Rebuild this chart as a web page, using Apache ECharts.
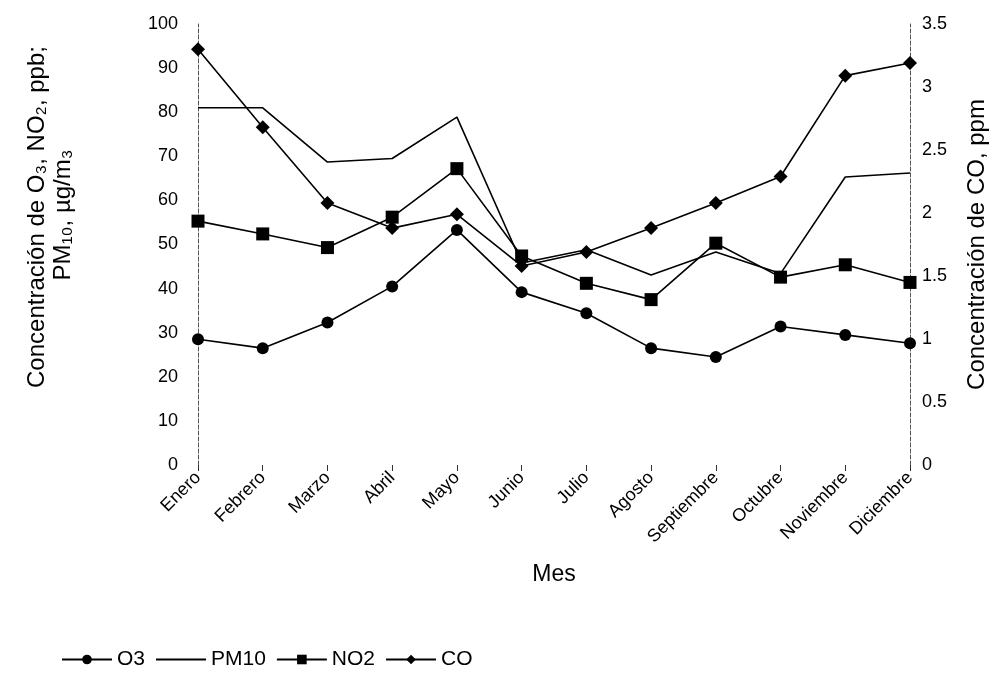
<!DOCTYPE html>
<html>
<head>
<meta charset="utf-8">
<script src="https://cdn.jsdelivr.net/npm/echarts@6/dist/echarts.min.js"></script>
<style>
  html, body { margin: 0; padding: 0; background: #fff; }
  #chart { width: 990px; height: 692px; }
</style>
</head>
<body>
<div id="chart"></div>
<script>
const months = ['Enero', 'Febrero', 'Marzo', 'Abril', 'Mayo', 'Junio', 'Julio', 'Agosto', 'Septiembre', 'Octubre', 'Noviembre', 'Diciembre']
const o3 = [28.5, 26.5, 32.3, 40.5, 53.3, 39.2, 34.4, 26.5, 24.5, 31.4, 29.5, 27.6]
const pm10 = [81, 81, 68.7, 69.5, 78.9, 45.8, 48.8, 43.1, 48.3, 43.4, 65.3, 66.2]
const no2 = [55.3, 52.4, 49.3, 56.2, 67.2, 47.4, 41.2, 37.5, 50.3, 42.6, 45.4, 41.4]
const co = [3.3, 2.68, 2.08, 1.88, 1.99, 1.58, 1.69, 1.88, 2.08, 2.29, 3.09, 3.19]

const font = 'Liberation Sans, Arial, sans-serif'
const chart = echarts.init(document.getElementById('chart'))

const lineBase = {
  type: 'line',
  symbolSize: 12,
  lineStyle: { color: '#000', width: 1.6 },
  itemStyle: { color: '#000' },
  emphasis: { disabled: true },
  animation: false
}

chart.setOption({
  backgroundColor: '#fff',
  textStyle: { fontFamily: font, color: '#000' },
  grid: { left: 198, right: 80, top: 24, bottom: 227, outerBoundsMode: 'none' },
  graphic: [
    // left axis title, two lines
    {
      type: 'text', x: 37, y: 217, rotation: Math.PI / 2,
      style: { text: 'Concentración de O₃, NO₂, ppb;', font: '24px ' + font, fill: '#000', align: 'center', verticalAlign: 'middle' }
    },
    {
      type: 'text', x: 63, y: 215, rotation: Math.PI / 2,
      style: { text: 'PM₁₀, µg/m₃', font: '24px ' + font, fill: '#000', align: 'center', verticalAlign: 'middle' }
    }
  ],
  legend: {
    left: 56,
    top: 644,
    itemWidth: 50,
    itemHeight: 12,
    itemGap: 10,
    textStyle: { fontFamily: font, fontSize: 21, color: '#000' },
    data: ['O3', { name: 'PM10', itemStyle: { opacity: 0 } }, 'NO2', 'CO']
  },
  xAxis: {
    type: 'category',
    data: months,
    boundaryGap: false,
    name: 'Mes',
    nameLocation: 'middle',
    nameGap: 98,
    nameTextStyle: { fontFamily: font, fontSize: 23, color: '#000' },
    axisLine: { show: false },
    axisTick: { show: true, length: 6, lineStyle: { color: '#333', width: 1 } },
    axisLabel: { rotate: 45, margin: 10, fontFamily: font, fontSize: 18, color: '#000' },
    splitLine: { show: false }
  },
  yAxis: [
    {
      type: 'value',
      min: 0,
      max: 100,
      interval: 10,
      axisLine: { show: true, lineStyle: { color: '#555', width: 1, type: 'dashed' } },
      axisTick: { show: false },
      axisLabel: { fontFamily: font, fontSize: 18, color: '#000', margin: 20 },
      splitLine: { show: false }
    },
    {
      type: 'value',
      min: 0,
      max: 3.5,
      interval: 0.5,
      name: 'Concentración de CO, ppm',
      nameLocation: 'middle',
      nameRotate: 90,
      nameGap: 55,
      nameTextStyle: { fontFamily: font, fontSize: 24, color: '#000' },
      axisLine: { show: true, lineStyle: { color: '#555', width: 1, type: 'dashed' } },
      axisTick: { show: false },
      axisLabel: { fontFamily: font, fontSize: 18, color: '#000', margin: 12 },
      splitLine: { show: false }
    }
  ],
  series: [
    Object.assign({}, lineBase, { name: 'O3', symbol: 'circle', data: o3 }),
    Object.assign({}, lineBase, { name: 'PM10', symbol: 'none', data: pm10 }),
    Object.assign({}, lineBase, { name: 'NO2', symbol: 'rect', symbolSize: 13, data: no2 }),
    Object.assign({}, lineBase, { name: 'CO', symbol: 'diamond', symbolSize: 14, yAxisIndex: 1, data: co })
  ]
})
</script>
</body>
</html>
